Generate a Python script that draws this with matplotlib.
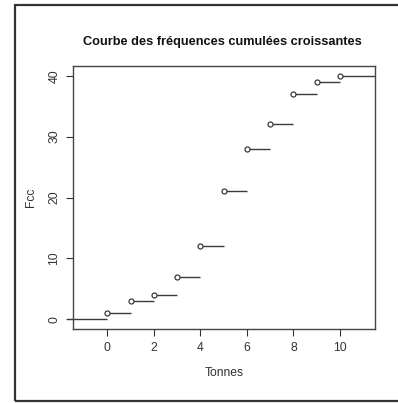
import numpy as np
import matplotlib.pyplot as plt
from matplotlib.patches import Rectangle

plt.rcParams['font.family'] = ['Liberation Sans', 'DejaVu Sans']

# cumulative frequencies by weight class
tonnes = [0, 1, 2, 3, 4, 5, 6, 7, 8, 9, 10]
fcc = [1, 3, 4, 7, 12, 21, 28, 32, 37, 39, 40]
x_ticks = [0, 2, 4, 6, 8, 10]
y_ticks = [0, 10, 20, 30, 40]

x_lo, x_hi = -1.47, 11.5
line_col = '#3a3a3a'

fig = plt.figure(figsize=(3.98, 4.03), dpi=100)
ax = fig.add_axes([0.1834, 0.1836, 0.9422 - 0.1834, 0.8362 - 0.1836])

# step segments: each level runs until the next jump, last one to the edge
x = np.array(tonnes, dtype=float)
y = np.array(fcc, dtype=float)
x_end = np.append(x[1:], x_hi)
ax.hlines(y, x, x_end, colors=line_col, linewidth=1.0)
ax.hlines(0, -1.74, x[0], colors=line_col, linewidth=1.0, clip_on=False)
ax.plot(x, y, 'o', markersize=3.6, markerfacecolor='white',
        markeredgecolor=line_col, markeredgewidth=0.9)

ax.set_xlim(x_lo, x_hi)
ax.set_ylim(-1.6, 41.6)
ax.set_xticks(x_ticks)
ax.set_yticks(y_ticks)
ax.tick_params(labelsize=8.7, colors='#333333', length=5, width=0.8, pad=4)
for lbl in ax.get_yticklabels():
    lbl.set_rotation(90)
    lbl.set_va('center')
for s in ax.spines.values():
    s.set_color('#444444')
    s.set_linewidth(1.0)

ax.set_xlabel('Tonnes', fontsize=8.7, color='#333333', labelpad=10)
ax.set_ylabel('Fcc', fontsize=8.7, color='#333333', labelpad=8)
fig.text(0.559, 0.896, 'Courbe des fréquences cumulées croissantes',
         ha='center', va='center', fontsize=9.2, fontweight='bold', color='#111111')

# outer frame around the whole device
fig.patches.append(Rectangle((14.5 / 398, 1 - 401 / 403), 1.0, 396 / 403,
                             transform=fig.transFigure, fill=False,
                             edgecolor='#333333', linewidth=1.6))

fig.savefig('out.png', dpi=100)
